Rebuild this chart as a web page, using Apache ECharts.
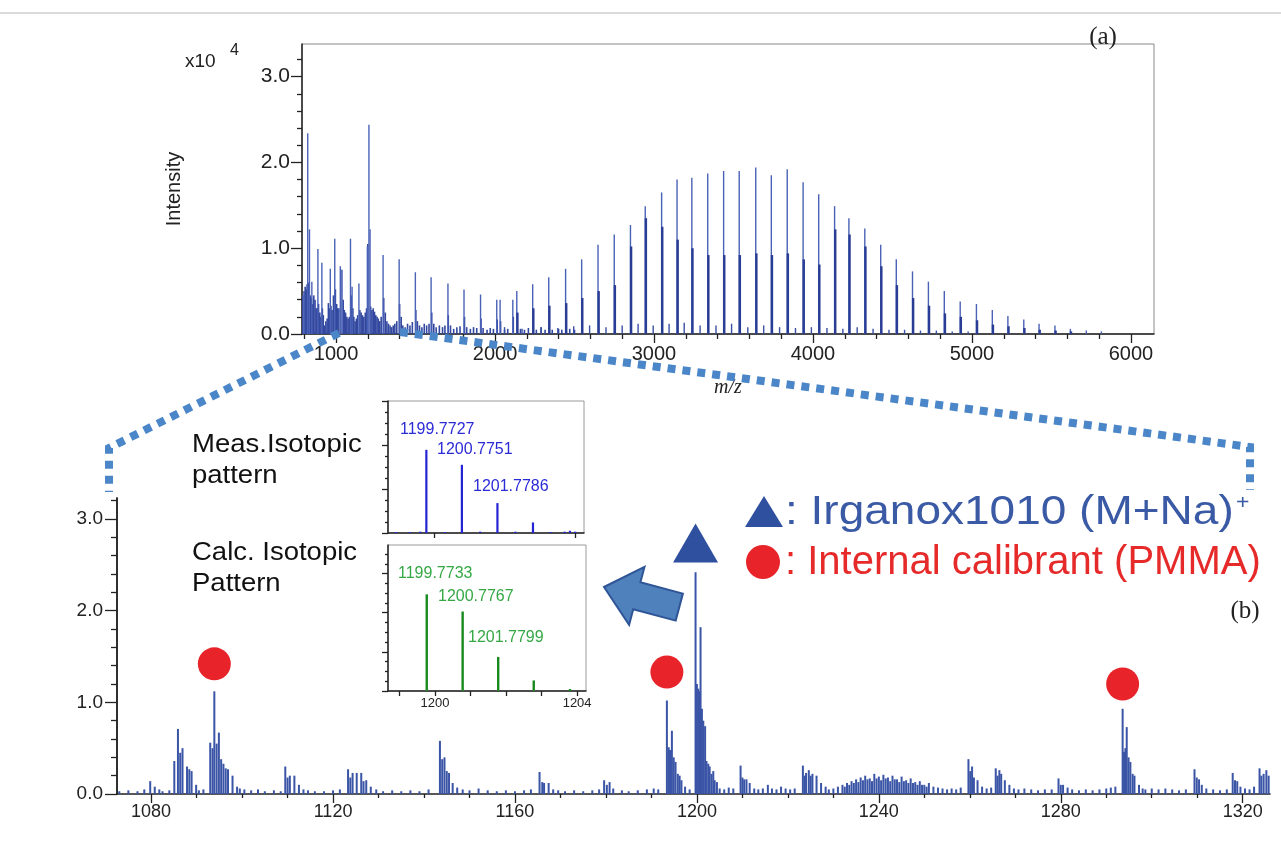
<!DOCTYPE html>
<html>
<head>
<meta charset="utf-8">
<script src="https://cdn.jsdelivr.net/npm/echarts@6/dist/echarts.min.js"></script>
<style>
html, body { margin: 0; padding: 0; background: #fff; }
#main { width: 1281px; height: 841px; }
</style>
</head>
<body>
<div id="main"></div>
<script>
// ---- tick labels ----
var topXTicks = [1000, 2000, 3000, 4000, 5000, 6000];
var topXMinor = [800, 1200, 1400, 1600, 1800, 2200, 2400, 2600, 2800, 3200, 3400, 3600, 3800,
    4200, 4400, 4600, 4800, 5200, 5400, 5600, 5800];
var topYTicks = [0, 1, 2, 3];
var topYMinor = [0.2, 0.4, 0.6, 0.8, 1.2, 1.4, 1.6, 1.8, 2.2, 2.4, 2.6, 2.8, 3.2];
var botXTicks = [1080, 1120, 1160, 1200, 1240, 1280, 1320];
var botXMinor = [1090, 1100, 1110, 1130, 1140, 1150, 1170, 1180, 1190, 1210, 1220, 1230,
    1250, 1260, 1270, 1290, 1300, 1310];
var botYTicks = [0, 1, 2, 3];
var botYMinor = [0.2, 0.4, 0.6, 0.8, 1.2, 1.4, 1.6, 1.8, 2.2, 2.4, 2.6, 2.8, 3.2];
var insetXLabels = [1200, 1204];
var insetXTicks = [1199, 1200, 1201, 1202, 1203, 1204];
var insetYTicks = [0, 1, 2, 3];
var insetYMinor = [0.25, 0.5, 0.75, 1.25, 1.5, 1.75, 2.25, 2.5, 2.75, 3.25, 3.5];

// ---- (a) full spectrum, intensity x10^4 ----
var topMain = [[799,0.50],[822,2.34],[833,1.22],[848,0.61],[886,0.99],[911,0.83],[964,0.76],[992,1.11],
    [1027,0.79],[1038,0.75],[1091,1.11],[1101,0.55],[1144,0.59],[1197,1.02],[1207,2.44],[1214,1.22],
    [1296,0.92],[1397,0.87],[1499,0.72],[1598,0.66],[1704,0.59],[1805,0.52],[1909,0.46],[2011,0.40],
    [2032,0.40],[2112,0.40],[2137,0.50],[2237,0.58],[2338,0.66],[2444,0.76],[2545,0.87],[2648,1.04],
    [2750,1.16],[2852,1.27],[2945,1.49],[3048,1.65],[3145,1.80],[3238,1.82],[3338,1.87],[3438,1.90],
    [3536,1.90],[3640,1.94],[3738,1.85],[3838,1.92],[3938,1.77],[4036,1.63],[4136,1.49],[4226,1.35],
    [4326,1.23],[4426,1.04],[4524,0.87],[4626,0.73],[4726,0.61],[4826,0.50],[4926,0.38],[5028,0.35],
    [5128,0.28],[5226,0.21],[5326,0.17],[5422,0.12],[5522,0.10],[5619,0.06],[5719,0.04],[5814,0.03]];
var topDark = [[2141,0.25],[2241,0.30],[2342,0.33],[2448,0.36],[2549,0.42],[2652,0.50],[2754,0.57],
    [2856,1.02],[2949,1.35],[3052,1.25],[3149,1.10],[3242,1.00],[3342,0.92],[3442,0.92],[3540,0.92],
    [3644,0.94],[3742,0.92],[3842,0.94],[3942,0.87],[4040,0.81],[4140,1.22],[4230,1.16],[4330,1.02],
    [4430,0.79],[4528,0.57],[4630,0.42],[4730,0.33],[4830,0.24],[4930,0.20],[5032,0.16],[5132,0.11],
    [5230,0.09],[5330,0.07],[5426,0.05],[5526,0.04],[5623,0.03]];
var topFill = [[790,0.45],[800,0.50],[806,0.55],[812,0.52],[818,0.58],[826,0.60],[838,0.45],[845,0.42],
    [852,0.35],[860,0.45],[868,0.40],[875,0.30],[882,0.30],[890,0.35],[898,0.25],[905,0.20],[914,0.30],
    [920,0.22],[928,0.10],[936,0.15],[944,0.18],[952,0.36],[958,0.30],[968,0.33],[975,0.28],[984,0.45],
    [996,0.52],[1004,0.35],[1010,0.30],[1018,0.30],[1030,0.75],[1045,0.40],[1052,0.28],[1060,0.25],
    [1068,0.20],[1076,0.18],[1084,0.20],[1096,0.45],[1106,0.30],[1112,0.20],[1120,0.15],[1128,0.18],
    [1136,0.22],[1150,0.28],[1158,0.25],[1166,0.22],[1175,0.20],[1184,0.25],[1192,0.30],[1200,1.05],
    [1218,0.32],[1226,0.28],[1234,0.30],[1242,0.26],[1250,0.22],[1258,0.20],[1266,0.18],[1275,0.15],
    [1284,0.20],[1300,0.42],[1310,0.25],[1320,0.15],[1330,0.12],[1340,0.10],[1350,0.08],[1360,0.10],
    [1370,0.12],[1382,0.15],[1400,0.35],[1410,0.20],[1420,0.10],[1435,0.08],[1450,0.12],[1465,0.10],
    [1480,0.14],[1502,0.28],[1512,0.15],[1525,0.10],[1540,0.08],[1555,0.12],[1570,0.10],[1585,0.12],
    [1602,0.25],[1615,0.12],[1630,0.08],[1650,0.10],[1670,0.08],[1685,0.10],[1706,0.22],[1720,0.10],
    [1740,0.06],[1760,0.08],[1780,0.09],[1808,0.20],[1822,0.08],[1845,0.06],[1865,0.08],[1885,0.07],
    [1912,0.18],[1925,0.07],[1950,0.05],[1970,0.07],[1990,0.06],[2014,0.17],[2035,0.15],[2060,0.05],
    [2080,0.06],[2115,0.20],[2160,0.06],[2185,0.05],[2210,0.07],[2260,0.05],[2290,0.08],[2315,0.05],
    [2360,0.05],[2400,0.06],[2420,0.05],[2470,0.06],[2500,0.05]];
var topSmall = [[2060,0.08],[2170,0.06],[2290,0.08],[2395,0.07],[2495,0.09],[2595,0.10],[2698,0.08],
    [2800,0.10],[2900,0.12],[2995,0.10],[3095,0.12],[3190,0.13],[3290,0.10],[3390,0.10],[3488,0.12],
    [3590,0.08],[3690,0.10],[3790,0.08],[3890,0.07],[3990,0.08],[4088,0.07],[4188,0.06],[4278,0.08],
    [4378,0.06],[4478,0.05],[4576,0.05],[4676,0.04],[4776,0.04],[4876,0.03],[4976,0.03]];

// ---- (b) zoomed spectrum ----
var botPeaks = [[1079.8,0.14],[1080.8,0.08],[1081.8,0.05],
    [1085.1,0.36],[1085.9,0.71],[1086.4,0.45],[1086.9,0.50],[1087.9,0.30],[1088.4,0.27],[1088.9,0.25],[1089.9,0.10],
    [1093.0,0.56],[1093.5,0.50],[1093.9,1.12],[1094.4,0.55],[1094.9,0.67],[1095.4,0.38],[1095.9,0.33],
    [1096.4,0.28],[1096.9,0.27],[1097.9,0.20],[1098.9,0.08],
    [1109.5,0.30],[1110.0,0.18],[1110.5,0.20],[1111.5,0.20],[1112.5,0.10],[1113.5,0.05],
    [1123.3,0.27],[1123.8,0.18],[1124.3,0.23],[1125.2,0.23],[1126.2,0.23],[1126.7,0.14],[1127.3,0.15],[1128.3,0.08],
    [1143.5,0.58],[1144.0,0.38],[1144.5,0.40],[1145.0,0.25],[1145.5,0.23],[1146.3,0.12],[1147.3,0.07],
    [1165.4,0.24],[1166.0,0.13],[1166.4,0.12],[1167.4,0.12],[1168.4,0.05],
    [1179.6,0.15],[1180.2,0.10],[1180.8,0.13],[1181.6,0.06],
    [1193.4,1.02],[1193.8,0.51],[1194.1,0.48],[1194.5,0.69],[1194.9,0.40],[1195.3,0.35],[1195.8,0.22],
    [1196.2,0.20],[1196.6,0.15],[1197.4,0.08],[1198.4,0.05],
    [1199.7,2.42],[1200.0,1.20],[1200.3,1.15],[1200.6,1.12],[1200.8,1.82],[1201.1,0.93],[1201.4,0.80],
    [1201.8,0.74],[1202.1,0.36],[1202.5,0.33],[1202.8,0.30],[1203.2,0.22],[1203.6,0.25],[1203.9,0.15],
    [1204.4,0.13],[1205.0,0.06],
    [1209.6,0.31],[1210.0,0.18],[1210.4,0.16],[1210.9,0.16],[1211.6,0.12],[1212.6,0.06],
    [1215.6,0.10],[1216.5,0.06],
    [1223.3,0.31],[1223.7,0.20],[1224.0,0.23],[1224.6,0.26],[1225.0,0.20],[1225.4,0.22],[1226.3,0.20],
    [1227.3,0.12],[1228.3,0.08],
    [1230.0,0.06],[1231.0,0.08],[1232.0,0.10],[1232.5,0.08],[1233.0,0.12],[1233.5,0.10],[1234.0,0.14],
    [1234.5,0.12],[1235.0,0.16],[1235.5,0.13],[1236.0,0.18],[1236.5,0.15],[1237.0,0.20],[1237.5,0.16],
    [1238.0,0.17],[1238.5,0.14],[1239.0,0.22],[1239.5,0.17],[1240.0,0.19],[1240.5,0.15],[1241.0,0.21],
    [1241.5,0.17],[1242.0,0.18],[1242.5,0.14],[1243.0,0.20],[1243.5,0.16],[1244.0,0.16],[1244.5,0.13],
    [1245.0,0.19],[1245.5,0.14],[1246.0,0.15],[1246.5,0.12],[1247.0,0.17],[1247.5,0.12],[1248.0,0.13],
    [1248.5,0.10],[1249.0,0.14],[1249.5,0.10],[1250.0,0.10],[1250.5,0.08],[1251.0,0.12],[1252.0,0.08],
    [1253.0,0.07],[1254.0,0.06],
    [1259.7,0.38],[1260.1,0.25],[1260.5,0.30],[1260.9,0.18],[1261.7,0.15],[1262.7,0.08],
    [1265.7,0.28],[1266.1,0.20],[1266.5,0.26],[1266.9,0.22],[1267.7,0.15],[1268.7,0.10],[1269.7,0.06],
    [1279.5,0.17],[1280.0,0.10],[1280.5,0.10],[1281.5,0.07],
    [1293.6,0.93],[1293.9,0.46],[1294.2,0.50],[1294.5,0.73],[1294.9,0.40],[1295.3,0.35],[1295.8,0.22],
    [1296.2,0.20],[1297.2,0.10],[1298.0,0.06],
    [1309.4,0.27],[1309.9,0.18],[1310.4,0.16],[1311.0,0.10],
    [1317.8,0.23],[1318.3,0.15],[1318.8,0.14],[1319.5,0.08],
    [1323.7,0.28],[1324.1,0.20],[1324.6,0.22],[1325.2,0.26],[1325.7,0.20]];
var botNoise = [[1073,0.03],[1075,0.04],[1077,0.03],[1078.5,0.05],[1082.5,0.03],[1084,0.04],[1090.5,0.04],
    [1091.5,0.05],[1099.5,0.06],[1100.5,0.05],[1102,0.04],[1103.5,0.05],[1105,0.03],[1107,0.04],[1108.5,0.03],
    [1114.5,0.04],[1116,0.03],[1118,0.03],[1120,0.04],[1121.5,0.05],[1129.5,0.05],[1131,0.03],[1133,0.04],
    [1135,0.03],[1137,0.04],[1139,0.03],[1141,0.05],[1148.5,0.05],[1150,0.04],[1152,0.06],[1154,0.04],
    [1156,0.03],[1158,0.04],[1160,0.03],[1162,0.04],[1163.5,0.05],[1169.5,0.04],[1171,0.03],[1173,0.04],
    [1175,0.03],[1177,0.04],[1178.5,0.05],[1183.5,0.04],[1185,0.03],[1187,0.04],[1189,0.05],[1190.5,0.06],
    [1191.5,0.05],[1206,0.05],[1207,0.07],[1208,0.06],[1213.5,0.05],[1214.5,0.06],[1217.5,0.05],[1218.5,0.08],
    [1219.5,0.06],[1220.5,0.05],[1221.5,0.06],[1229,0.05],[1255,0.05],[1256,0.06],[1257,0.05],[1258,0.07],
    [1263.7,0.06],[1264.7,0.07],[1270.7,0.05],[1272,0.06],[1273.5,0.05],[1275,0.04],[1276.5,0.05],[1278,0.05],
    [1282.5,0.05],[1284,0.04],[1285.5,0.05],[1287,0.04],[1288.5,0.05],[1290,0.06],[1291,0.07],[1292,0.08],
    [1298.6,0.05],[1300,0.06],[1301.5,0.05],[1303,0.06],[1304.5,0.05],[1306,0.04],[1307.5,0.05],[1312,0.06],
    [1313.5,0.05],[1315,0.04],[1316.5,0.05],[1320.5,0.06],[1321.5,0.05],[1322.5,0.08]];
var pmmaMarks = [[1093.9, 1.42], [1193.4, 1.33], [1293.6, 1.20]];
var irgMarks = [[1199.7, 2.74]];

// ---- isotopic pattern insets ----
var measPeaks = [[1198.9,0.02],[1199.3,0.02],[1199.6,0.03],[1199.77,1.89],[1200.3,0.02],[1200.78,1.55],
    [1201.3,0.03],[1201.79,0.68],[1202.3,0.03],[1202.80,0.24],[1203.3,0.02],[1203.7,0.03],[1203.85,0.05],[1204.0,0.03]];
var calcPeaks = [[1199.77,2.47],[1200.78,2.03],[1201.78,0.87],[1202.78,0.27],[1203.80,0.05]];
var measLabels = ['1199.7727', '1200.7751', '1201.7786'];
var calcLabels = ['1199.7733', '1200.7767', '1201.7799'];

var FONT = '"Liberation Sans", Arial, sans-serif';
var SERIF = '"Liberation Serif", "Times New Roman", serif';

function sticks(data, xi, yi, color, width) {
    return {
        type: 'custom', xAxisIndex: xi, yAxisIndex: yi, data: data, clip: true, silent: true,
        encode: { x: 0, y: 1 },
        renderItem: function (params, api) {
            var b = api.coord([api.value(0), 0]);
            var t = api.coord([api.value(0), api.value(1)]);
            return { type: 'line', shape: { x1: b[0], y1: b[1], x2: t[0], y2: t[1] },
                style: { stroke: color, lineWidth: width } };
        }
    };
}

function xAx(grid, min, max, ticks, len, labels, fs, margin) {
    return {
        type: 'value', gridIndex: grid, min: min, max: max, position: 'bottom',
        axisLine: { show: !!labels, lineStyle: { color: '#222', width: 1.5 } },
        axisTick: { show: true, customValues: ticks, length: len, lineStyle: { color: '#222', width: 1.3 } },
        axisLabel: labels ? { customValues: labels, fontSize: fs, color: '#222', fontFamily: FONT, margin: margin,
            formatter: function (v) { return String(v); } } : { show: false },
        splitLine: { show: false }
    };
}
function yAx(grid, max, ticks, len, labels, fs, margin) {
    return {
        type: 'value', gridIndex: grid, min: 0, max: max, position: 'left',
        axisLine: { show: !!labels || len > 5, lineStyle: { color: '#222', width: 1.5 } },
        axisTick: { show: true, customValues: ticks, length: len, lineStyle: { color: '#222', width: 1.3 } },
        axisLabel: labels ? { customValues: labels, fontSize: fs, color: '#222', fontFamily: FONT, margin: margin,
            formatter: function (v) { return v.toFixed(1); } } : { show: false },
        splitLine: { show: false }
    };
}

var xAxes = [
    xAx(0, 786, 6145, topXTicks, 9, topXTicks, 20, 10),
    xAx(0, 786, 6145, topXMinor, 5),
    xAx(1, 1072.5, 1326, botXTicks, 9, botXTicks, 18, 9),
    xAx(1, 1072.5, 1326, botXMinor, 4),
    xAx(2, 1198.68, 1204.25, insetXLabels, 5, [], 13, 6),
    xAx(3, 1198.68, 1204.25, insetXTicks, 5, insetXLabels, 13, 6)
];
xAxes[0].name = 'm/z';
xAxes[0].nameLocation = 'middle';
xAxes[0].nameGap = 44;
xAxes[0].nameTextStyle = { fontFamily: SERIF, fontStyle: 'italic', fontSize: 20, color: '#222' };
xAxes[4].axisLabel = { show: false };

var yAxes = [
    yAx(0, 3.38, topYTicks, 11, topYTicks, 21, 12),
    yAx(0, 3.38, topYMinor, 5),
    yAx(1, 3.23, botYTicks, 12, botYTicks, 19, 14),
    yAx(1, 3.23, botYMinor, 6),
    yAx(2, 3.0, insetYTicks, 6),
    yAx(2, 3.0, insetYMinor, 3),
    yAx(3, 3.73, insetYTicks, 6),
    yAx(3, 3.73, insetYMinor, 3)
];
yAxes[0].name = 'Intensity';
yAxes[0].nameLocation = 'middle';
yAxes[0].nameGap = 118;
yAxes[0].nameTextStyle = { fontFamily: FONT, fontSize: 20, color: '#222' };
yAxes[4].axisLine.show = true;
yAxes[6].axisLine.show = true;

var chart = echarts.init(document.getElementById('main'));

var blueTxt = '#3b5aa6', redTxt = '#e62a2a';
function txt(x, y, s, size, color, extra, sx) {
    var st = { text: s, x: 0, y: 0, fontSize: size, fontFamily: FONT, fill: color, verticalAlign: 'middle', align: 'left' };
    for (var k in (extra || {})) st[k] = extra[k];
    return { type: 'text', z: 60, x: x, y: y, scaleX: sx || 1, style: st };
}

var graphics = [
    { type: 'line', z: 1, shape: { x1: 0, y1: 13, x2: 1281, y2: 13 }, style: { stroke: '#cfcfcf', lineWidth: 1.5 } },
    txt(185, 62, 'x10', 19, '#222'),
    txt(230, 51, '4', 16, '#222'),
    txt(1103, 37, '(a)', 25, '#222', { fontFamily: SERIF, align: 'center' }),
    txt(1245, 611, '(b)', 25, '#222', { fontFamily: SERIF, align: 'center' }),
    txt(192, 445, 'Meas.Isotopic', 25, '#111', null, 1.1),
    txt(192, 476, 'pattern', 25, '#111', null, 1.1),
    txt(192, 553, 'Calc. Isotopic', 25, '#111', null, 1.1),
    txt(192, 584, 'Pattern', 25, '#111', null, 1.1),
    txt(400, 430, measLabels[0], 16, '#2b2bd6'),
    txt(437, 450, measLabels[1], 16, '#2b2bd6'),
    txt(473, 487, measLabels[2], 16, '#2b2bd6'),
    txt(398, 574, calcLabels[0], 16, '#35a845'),
    txt(438, 597, calcLabels[1], 16, '#35a845'),
    txt(468, 638, calcLabels[2], 16, '#35a845'),
    // legend
    { type: 'polygon', z: 60, shape: { points: [[764, 496], [745, 527], [783, 527]] }, style: { fill: '#2f4f9f' } },
    { type: 'circle', z: 60, shape: { cx: 763, cy: 562, r: 17 }, style: { fill: '#e8242a' } },
    { type: 'text', z: 60, x: 785, y: 513, scaleX: 1.15, style: { x: 0, y: 0, fontFamily: FONT, verticalAlign: 'middle',
        text: '{a|: Irganox1010 (M+Na)}{s|+}',
        rich: { a: { fontSize: 40, fill: blueTxt, fontFamily: FONT },
                s: { fontSize: 20, fill: blueTxt, fontFamily: FONT, verticalAlign: 'top', padding: [0, 0, 14, 2] } } } },
    txt(785, 563, ': Internal calibrant (PMMA)', 40, redTxt),
    // block arrow
    { type: 'polygon', z: 55,
      shape: { points: [[604, 587], [644.5, 566.8], [640.4, 582.3], [682.9, 593.6], [675.7, 620.6], [633.2, 609.3], [629.1, 624.8]] },
      style: { fill: '#4f81bd', stroke: '#2f5597', lineWidth: 2 } },
    // zoom guide dashes
    { type: 'polyline', z: 70, shape: { points: [[339, 333], [109, 448], [109, 492]] },
      style: { stroke: '#4a86c8', lineWidth: 8, lineDash: [8, 7], fill: null } },
    { type: 'polyline', z: 70, shape: { points: [[400, 332], [1250, 447], [1250, 490]] },
      style: { stroke: '#4a86c8', lineWidth: 8, lineDash: [8, 7], fill: null } }
];

var option = {
    animation: false,
    backgroundColor: '#fff',
    grid: [
        { left: 302, top: 44, width: 852, height: 290, show: true, borderColor: '#8a8a8a', borderWidth: 1, backgroundColor: '#fff' },
        { left: 117, top: 498, width: 1153, height: 296 },
        { left: 388, top: 401, width: 196, height: 132, show: true, borderColor: '#9a9a9a', borderWidth: 1, backgroundColor: '#fff' },
        { left: 388, top: 545, width: 198, height: 146, show: true, borderColor: '#9a9a9a', borderWidth: 1, backgroundColor: '#fff' }
    ],
    xAxis: xAxes,
    yAxis: yAxes,
    series: [
        sticks(topFill, 0, 0, '#33489f', 1.6),
        sticks(topMain, 0, 0, '#4a62b6', 1.4),
        sticks(topDark, 0, 0, '#2a3d94', 2.4),
        sticks(topSmall, 0, 0, '#3a50a4', 1.4),
        sticks(botNoise, 2, 2, '#3a54a6', 2),
        sticks(botPeaks, 2, 2, '#3a54a6', 2),
        sticks(measPeaks, 4, 4, '#2424d4', 2.2),
        sticks(calcPeaks, 5, 6, '#188a1e', 2.4),
        { type: 'scatter', xAxisIndex: 2, yAxisIndex: 2, data: pmmaMarks, symbol: 'circle', symbolSize: 33,
          itemStyle: { color: '#e8242a', opacity: 1 }, silent: true, z: 5 },
        { type: 'scatter', xAxisIndex: 2, yAxisIndex: 2, data: irgMarks, symbol: 'triangle', symbolSize: [45, 39],
          itemStyle: { color: '#2f4f9f', opacity: 1 }, silent: true, z: 5 }
    ],
    graphic: graphics
};

chart.setOption(option);
window.onresize = function () { chart.resize(); };
</script>
</body>
</html>
